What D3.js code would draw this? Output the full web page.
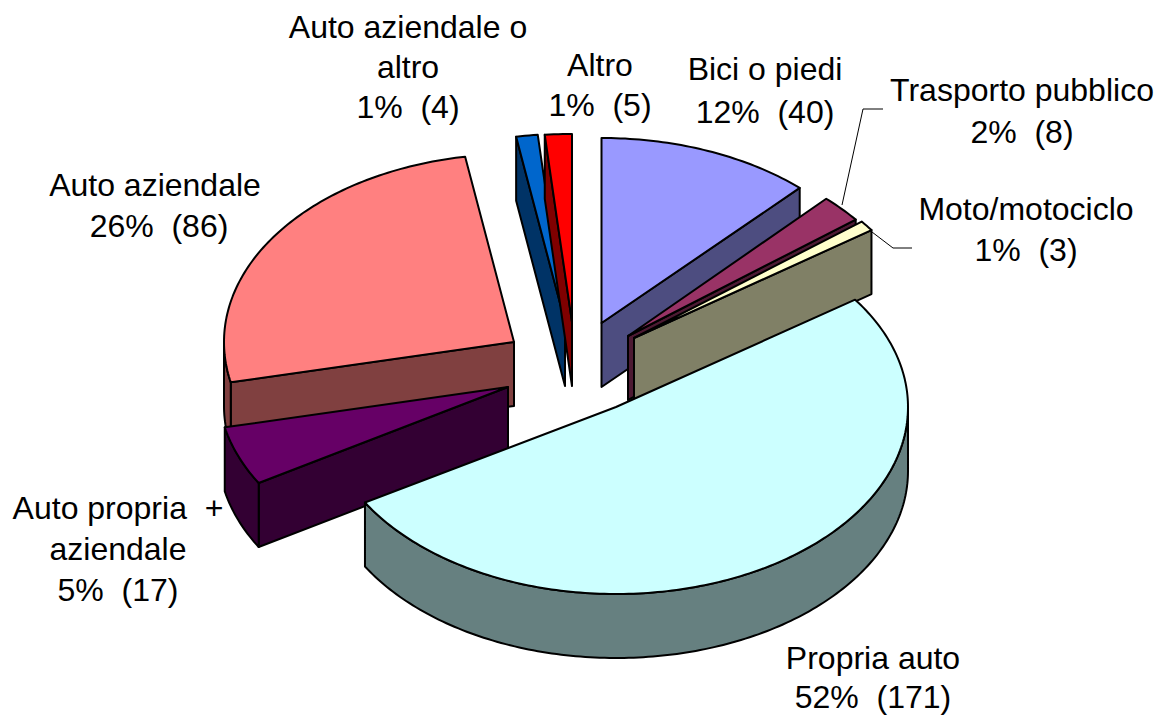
<!DOCTYPE html>
<html lang="en">
<head>
  <title>Mezzo di trasporto</title>
  <style>
    html, body { margin: 0; padding: 0; background: #fff; }
    svg { display: block; }
    text { font-family: "Liberation Sans", Arial, sans-serif; font-size: 32px; fill: #000; white-space: pre; }
  </style>
</head>
<body>
  <svg></svg>
  <script src="https://d3js.org/d3.v7.min.js"></script>
  <script>

// Data
var categories = ['Bici o piedi', 'Trasporto pubblico', 'Moto/motociclo', 'Propria auto',
                  'Auto propria + aziendale', 'Auto aziendale', 'Auto aziendale o altro', 'Altro'];
var counts = [40, 8, 3, 171, 17, 86, 4, 5];
var percents = ['12%', '2%', '1%', '52%', '5%', '26%', '1%', '1%'];
var topColors = ['#9999FF', '#993366', '#FFFFCC', '#CCFFFF', '#660066', '#FF8080', '#0066CC', '#FF0000'];
var wallColors = ['#4D4D80', '#4D1A33', '#808066', '#668080', '#330033', '#804040', '#003366', '#800000'];

var width = 1159, height = 715;
var cx = 570, cy = 375;  // pie centre before the slices are pulled out
var depth = 64;          // thickness

// Tilted ellipse, the original is not quite the same for every slice
var radiusX = [290, 290, 290, 292, 290, 290, 290, 290];
var radiusY = [185, 188, 188, 187, 188, 188, 188, 188];

// How far each slice is pulled out of the pie
var explode = [[31.5, -52], [58, -39], [64, -37], [46, 32], [-62, 12], [-56, -33], [-5, -53], [2, -53]];
// Back to front
var drawOrder = [6, 7, 0, 1, 2, 5, 4, 3];

// Label placement: centre x, first line middle y, line step, wrapped name, shift of the last line
var labelPlace = [
  {x: 765, y: 69, step: 43, lines: ['Bici o piedi'], dx: 0},
  {x: 1022, y: 90, step: 42, lines: ['Trasporto pubblico'], dx: 0},
  {x: 1026, y: 209, step: 41, lines: ['Moto/motociclo'], dx: 0},
  {x: 873, y: 658, step: 39, lines: ['Propria auto'], dx: 0},
  {x: 118, y: 508, step: 41, lines: ['Auto propria  +', 'aziendale'], dx: 0},
  {x: 155, y: 185, step: 41, lines: ['Auto aziendale'], dx: 4},
  {x: 408, y: 27, step: 40, lines: ['Auto aziendale o', 'altro'], dx: 0},
  {x: 600, y: 65, step: 40, lines: ['Altro'], dx: 0}
];
var leaders = [
  [[842, 205], [863, 109], [883, 109]],
  [[872, 232], [893, 248], [912, 248]]
];

var svg = d3.select('svg').attr('width', width).attr('height', height);

var slices = d3.pie().sort(null).value(function(d) { return d; })(counts);
var line = d3.line();
var HALF_PI = Math.PI / 2;

drawOrder.forEach(function(i) {
  var s = slices[i];
  var ox = cx + explode[i][0], oy = cy + explode[i][1];
  var a0 = s.startAngle, a1 = s.endAngle;

  // Ellipse point for a pie angle (0 = 12 o'clock, clockwise)
  function rim(a) {
    return [ox + radiusX[i] * Math.sin(a), oy - radiusY[i] * Math.cos(a)];
  }
  function arcPoints(from, to) {
    var n = Math.max(2, Math.ceil((to - from) * 60));
    return d3.range(n + 1).map(function(k) {
      return rim(from + (to - from) * k / n);
    });
  }
  function drawFace(pts, color) {
    svg.append('path')
       .attr('d', line(pts) + 'Z')
       .attr('fill', color)
       .attr('stroke', '#000')
       .attr('stroke-width', 2)
       .attr('stroke-linejoin', 'round');
  }
  function radialWall(a) {
    var p = rim(a);
    drawFace([[ox, oy], p, [p[0], p[1] + depth], [ox, oy + depth]], wallColors[i]);
  }

  // only the walls turned towards the viewer
  if (Math.sin(a0) < -1e-6) radialWall(a0);
  if (Math.sin(a1) > 1e-6) radialWall(a1);

  var f0 = Math.max(a0, HALF_PI), f1 = Math.min(a1, 3 * HALF_PI);
  if (f1 > f0) {
    var upper = arcPoints(f0, f1);
    var lower = upper.map(function(p) { return [p[0], p[1] + depth]; }).reverse();
    drawFace(upper.concat(lower), wallColors[i]);
  }

  drawFace([[ox, oy]].concat(arcPoints(a0, a1)), topColors[i]);
});

// Leader lines
svg.selectAll('path.leader')
   .data(leaders)
   .enter()
   .append('path')
   .attr('class', 'leader')
   .attr('d', function(d) { return line(d); })
   .attr('fill', 'none')
   .attr('stroke', '#000')
   .attr('stroke-width', 1);

// Labels
labelPlace.forEach(function(p, i) {
  var rows = p.lines.concat([percents[i] + '  (' + counts[i] + ')']);
  rows.forEach(function(t, j) {
    svg.append('text')
       .attr('x', p.x + (j === rows.length - 1 ? p.dx : 0))
       .attr('y', p.y + j * p.step)
       .attr('dy', '0.35em')
       .attr('text-anchor', 'middle')
       .text(t);
  });
});

  </script>
</body>
</html>
